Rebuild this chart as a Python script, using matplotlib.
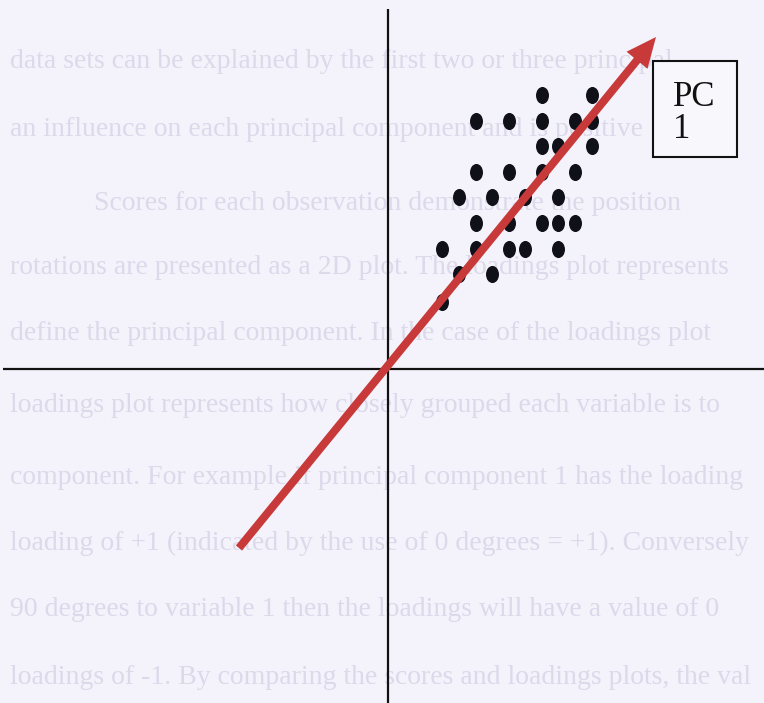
import numpy as np
import matplotlib.pyplot as plt
from matplotlib.path import Path
from matplotlib.patches import Rectangle, FancyArrow
from matplotlib.transforms import Affine2D

# observation scores (same units on both axes, origin where the axes cross)
score_x = [154, 204,
           88, 121, 154, 187, 204,
           154, 170, 204,
           88, 121, 154, 187,
           71, 104, 137, 170,
           88, 121, 154, 170, 187,
           54, 88, 121, 137, 170,
           71, 104,
           54]
score_y = [274, 274,
           248, 248, 248, 248, 248,
           223, 223, 223,
           197, 197, 197, 197,
           172, 172, 172, 172,
           146, 146, 146, 146, 146,
           120, 120, 120, 120, 120,
           95, 95,
           67]

# first principal component direction (tail -> head)
pc1_start = (-149, -179)
pc1_end = (268, 332)
pc1_label = "PC\n1"

# page text showing through from the back of the sheet
page_lines = [
    "data sets can be explained by the first two or three principal",
    "an influence on each principal component and is positive",
    "            Scores for each observation demonstrate the position",
    "rotations are presented as a 2D plot. The loadings plot represents",
    "define the principal component. In the case of the loadings plot",
    "loadings plot represents how closely grouped each variable is to",
    "component. For example if principal component 1 has the loading",
    "loading of +1 (indicated by the use of 0 degrees = +1). Conversely",
    "90 degrees to variable 1 then the loadings will have a value of 0",
    "loadings of -1. By comparing the scores and loadings plots, the val",
]
page_line_y = [307, 239, 166, 102, 36, -36, -108, -174, -241, -308]

bg = "#f4f3fb"
fig = plt.figure(figsize=(7.64, 7.03), dpi=100, facecolor=bg)
ax = fig.add_axes([0, 0, 1, 1])
ax.set_facecolor(bg)
ax.set_xlim(-388, 376)
ax.set_ylim(-334, 369)
ax.axis("off")

for txt, yy in zip(page_lines, page_line_y):
    ax.text(-378, yy, txt, fontsize=20, family="Liberation Serif",
            color="#dbd9ea", va="center", ha="left", zorder=0, clip_on=True)

# axes through the origin
ax.plot([-385, 376], [0, 0], color="#111111", lw=1.6, zorder=2,
        solid_capstyle="butt")
ax.plot([0, 0], [-334, 360], color="#111111", lw=1.6, zorder=2,
        solid_capstyle="butt")

# slightly tall oval markers
circ = Path.unit_circle()
oval = circ.transformed(Affine2D().scale(0.76, 1.0))
ax.scatter(score_x, score_y, s=12.3 ** 2, marker=oval, color="#101018",
           linewidths=0, zorder=3)

dx = pc1_end[0] - pc1_start[0]
dy = pc1_end[1] - pc1_start[1]
ax.add_patch(FancyArrow(pc1_start[0], pc1_start[1], dx, dy, width=8,
                        head_width=27, head_length=30,
                        length_includes_head=True, color="#c83a3a",
                        linewidth=0, zorder=4))

ax.add_patch(Rectangle((265, 212), 84, 96, facecolor="#f7f7fc",
                       edgecolor="#111111", lw=1.5, zorder=5))
# baseline of the last line ("1")
ax.text(285, 231, pc1_label, fontsize=25, family="Liberation Serif",
        color="#111111", va="baseline", ha="left", linespacing=0.95,
        zorder=6)

fig.savefig("out.png", dpi=100, facecolor=bg)
